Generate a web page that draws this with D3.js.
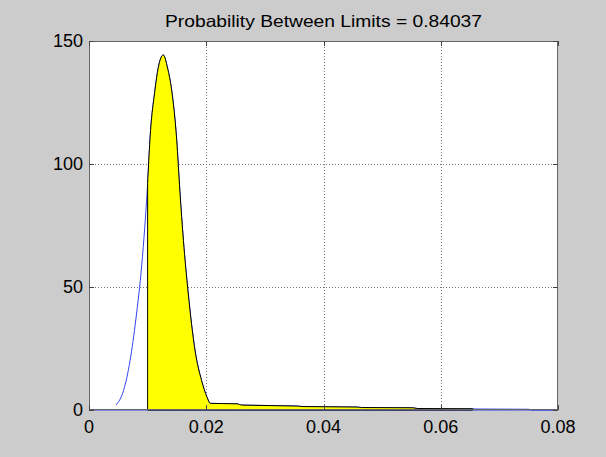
<!DOCTYPE html>
<html>
<head>
<meta charset="utf-8">
<script src="https://cdn.jsdelivr.net/npm/d3@7"></script>
<style>
  html, body { margin: 0; padding: 0; background: #cccccc; }
  svg { display: block; }
</style>
</head>
<body>
<svg id="chart" width="606" height="457"></svg>
<script>
// ---- data ----
const titleText = "Probability Between Limits = 0.84037";
const xTicks = [0, 0.02, 0.04, 0.06, 0.08];
const xTickLabels = ["0", "0.02", "0.04", "0.06", "0.08"];
const yTicks = [0, 50, 100, 150];
const yTickLabels = ["0", "50", "100", "150"];
const lowerLimit = 0.01;
const upperLimit = 0.0655;
const pdfX = [0.0046, 0.0059, 0.0070, 0.0080, 0.0090, 0.0095, 0.0100, 0.0104, 0.01125, 0.0118,
              0.01267, 0.0134, 0.0141, 0.01495, 0.0155, 0.0161, 0.0169, 0.0181, 0.0192, 0.0201, 0.0207,
              0.0253, 0.0260, 0.0355, 0.0365, 0.0457, 0.0465, 0.0552, 0.0560, 0.0654, 0.0660, 0.0750, 0.0755, 0.08];
const pdfY = [2, 8, 20, 37, 59, 74, 92, 110, 130, 139,
              144.3, 139, 130, 110, 89, 69, 48, 24, 12, 5.4, 2.7,
              2.5, 2.0, 1.6, 1.4, 1.2, 1.0, 0.9, 0.6, 0.5, 0.4, 0.3, 0, 0];
const baseX = [0, 0.08];
const baseY = [0, 0];

// ---- layout ----
const svg = d3.select("#chart");
const pL = 89, pR = 558, pT = 41, pB = 410;
const x = d3.scaleLinear().domain([0, 0.08]).range([pL, pR]);
const y = d3.scaleLinear().domain([0, 150]).range([pB, pT]);

// plot background
svg.append("rect").attr("x", pL).attr("y", pT)
  .attr("width", pR - pL).attr("height", pB - pT).attr("fill", "#ffffff");

// grid
const grid = svg.append("g").attr("stroke", "#777").attr("stroke-width", 1)
  .attr("stroke-dasharray", "1,2").attr("fill", "none");
xTicks.slice(1, -1).forEach(t => {
  grid.append("line").attr("x1", Math.round(x(t)) + 0.5).attr("x2", Math.round(x(t)) + 0.5)
    .attr("y1", pT).attr("y2", pB);
});
yTicks.slice(1).forEach(t => {
  grid.append("line").attr("y1", Math.round(y(t)) + 0.5).attr("y2", Math.round(y(t)) + 0.5)
    .attr("x1", pL).attr("x2", pR);
});

const pts = pdfX.map((v, i) => [v, pdfY[i]]);
const interp = xv => {
  for (let i = 0; i < pts.length - 1; i++) {
    if (xv >= pts[i][0] && xv <= pts[i + 1][0]) {
      const t = (xv - pts[i][0]) / (pts[i + 1][0] - pts[i][0]);
      return pts[i][1] + t * (pts[i + 1][1] - pts[i][1]);
    }
  }
  return 0;
};

// blue baseline and pdf curve
const line = d3.line().x(d => x(d[0])).y(d => y(d[1])).curve(d3.curveMonotoneX);
svg.append("path").datum(baseX.map((v, i) => [v, baseY[i]]))
  .attr("d", d3.line().x(d => x(d[0])).y(d => y(d[1])))
  .attr("fill", "none").attr("stroke", "#3344ee").attr("stroke-width", 1);
svg.append("path").datum(pts).attr("d", line)
  .attr("fill", "none").attr("stroke", "#3344ee").attr("stroke-width", 1);

// filled area between limits
const inside = [[lowerLimit, interp(lowerLimit)]]
  .concat(pts.filter(p => p[0] > lowerLimit && p[0] < upperLimit))
  .concat([[upperLimit, interp(upperLimit)]]);
const areaPath = d3.area().x(d => x(d[0])).y0(y(0)).y1(d => y(d[1])).curve(d3.curveMonotoneX);
svg.append("path").datum(inside).attr("d", areaPath)
  .attr("fill", "#ffff00").attr("stroke", "#000").attr("stroke-width", 1)
  .attr("stroke-linejoin", "round");

// box
svg.append("rect").attr("x", pL + 0.5).attr("y", pT + 0.5)
  .attr("width", pR - pL - 1).attr("height", pB - pT - 1)
  .attr("fill", "none").attr("stroke", "#666").attr("stroke-width", 1);

// ticks (inward) on all sides
const tk = svg.append("g").attr("stroke", "#444").attr("stroke-width", 1);
xTicks.forEach(t => {
  const xx = Math.round(x(t)) + 0.5;
  tk.append("line").attr("x1", xx).attr("x2", xx).attr("y1", pB).attr("y2", pB - 5);
  tk.append("line").attr("x1", xx).attr("x2", xx).attr("y1", pT).attr("y2", pT + 5);
});
yTicks.forEach(t => {
  const yy = Math.round(y(t)) + 0.5;
  tk.append("line").attr("y1", yy).attr("y2", yy).attr("x1", pL).attr("x2", pL + 5);
  tk.append("line").attr("y1", yy).attr("y2", yy).attr("x1", pR).attr("x2", pR - 5);
});

// tick labels
const font = "Liberation Sans, Arial, Helvetica, sans-serif";
svg.append("g").selectAll("text").data(xTicks).join("text")
  .attr("x", d => x(d)).attr("y", 433)
  .attr("text-anchor", "middle").attr("font-family", font).attr("font-size", 18)
  .attr("fill", "#000").text((d, i) => xTickLabels[i]);
svg.append("g").selectAll("text").data(yTicks).join("text")
  .attr("x", pL - 6).attr("y", d => y(d)).attr("dy", "0.35em")
  .attr("text-anchor", "end").attr("font-family", font).attr("font-size", 18)
  .attr("fill", "#000").text((d, i) => yTickLabels[i]);

// title
svg.append("text").attr("x", (pL + pR) / 2).attr("y", 27)
  .attr("text-anchor", "middle").attr("font-family", font).attr("font-size", 16.5)
  .attr("textLength", 317).attr("lengthAdjust", "spacingAndGlyphs")
  .attr("fill", "#000").text(titleText);
</script>
</body>
</html>
